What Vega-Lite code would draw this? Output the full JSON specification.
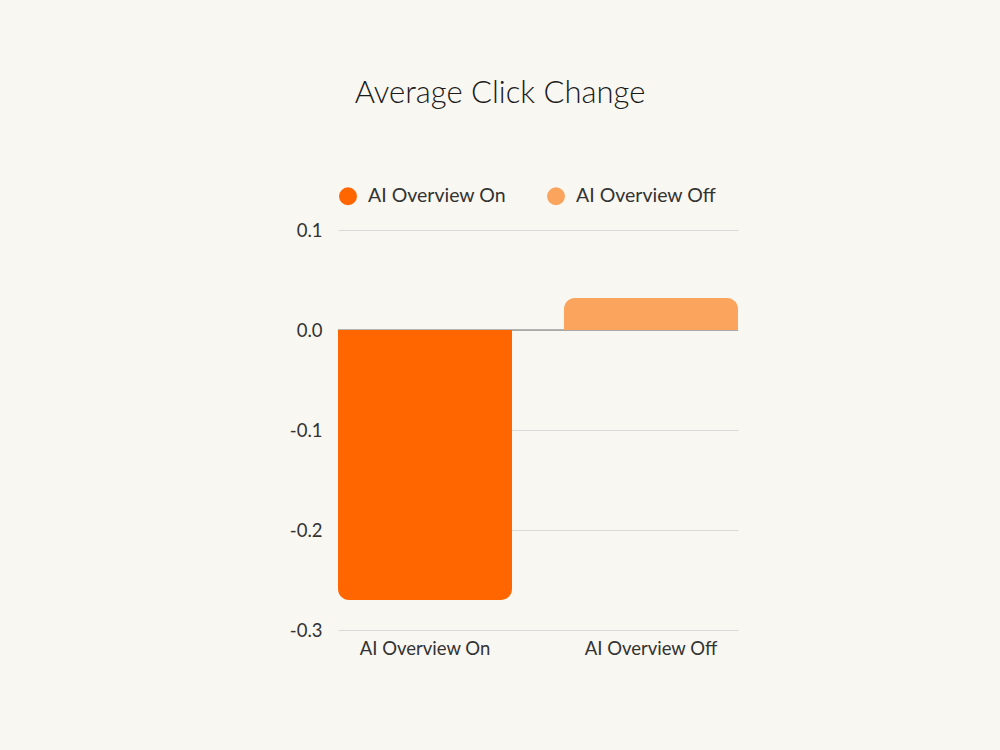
{
  "$schema": "https://vega.github.io/schema/vega-lite/v6.json",
  "width": 400,
  "height": 400,
  "autosize": "none",
  "padding": {"left": 338, "top": 230, "right": 262, "bottom": 120},
  "background": "#f9f7f2",
  "title": {
    "text": "Average Click Change",
    "anchor": "middle",
    "dx": -38,
    "offset": 76,
    "fontSize": 31,
    "fontWeight": 300,
    "font": "Lato",
    "color": "#1a1a1a"
  },
  "data": {
    "values": [
      {"group": "AI Overview On", "change": -0.27},
      {"group": "AI Overview Off", "change": 0.032}
    ]
  },
  "config": {
    "view": {"stroke": null},
    "font": "Lato"
  },
  "encoding": {
    "x": {
      "field": "group",
      "type": "nominal",
      "sort": ["AI Overview On", "AI Overview Off"],
      "scale": {"paddingInner": 0.23, "paddingOuter": 0},
      "axis": {
        "title": null,
        "labelAngle": 0,
        "domain": false,
        "ticks": false,
        "labelFontSize": 18.5,
        "labelColor": "#333333",
        "labelPadding": 9
      }
    },
    "y": {
      "field": "change",
      "type": "quantitative",
      "scale": {"domain": [-0.3, 0.1], "nice": false},
      "axis": {
        "title": null,
        "values": [-0.3, -0.2, -0.1, 0, 0.1],
        "labelExpr": "replace(format(datum.value, '.1f'), '\u2212', '-')",
        "domain": false,
        "ticks": false,
        "grid": true,
        "gridColor": "#d9d9d9",
        "gridWidth": 1,
        "labelFontSize": 18.5,
        "labelColor": "#333333",
        "labelPadding": 16
      }
    },
    "color": {
      "field": "group",
      "type": "nominal",
      "scale": {
        "domain": ["AI Overview On", "AI Overview Off"],
        "range": ["#ff6600", "#fba45e"]
      },
      "legend": {
        "title": null,
        "orient": "top",
        "direction": "horizontal",
        "symbolType": "circle",
        "symbolSize": 320,
        "labelFontSize": 19.5,
        "labelColor": "#333333",
        "labelOffset": 10,
        "columnPadding": 40,
        "offset": 24
      }
    }
  },
  "layer": [
    {
      "mark": {"type": "rule", "color": "#9a9a9a", "strokeWidth": 1},
      "encoding": {
        "x": null,
        "color": null,
        "y": {"datum": 0, "type": "quantitative"}
      }
    },
    {
      "transform": [{"filter": "datum.change < 0"}],
      "mark": {"type": "bar", "cornerRadiusBottomLeft": 11, "cornerRadiusBottomRight": 11}
    },
    {
      "transform": [{"filter": "datum.change >= 0"}],
      "mark": {"type": "bar", "cornerRadiusTopLeft": 11, "cornerRadiusTopRight": 11}
    }
  ]
}
